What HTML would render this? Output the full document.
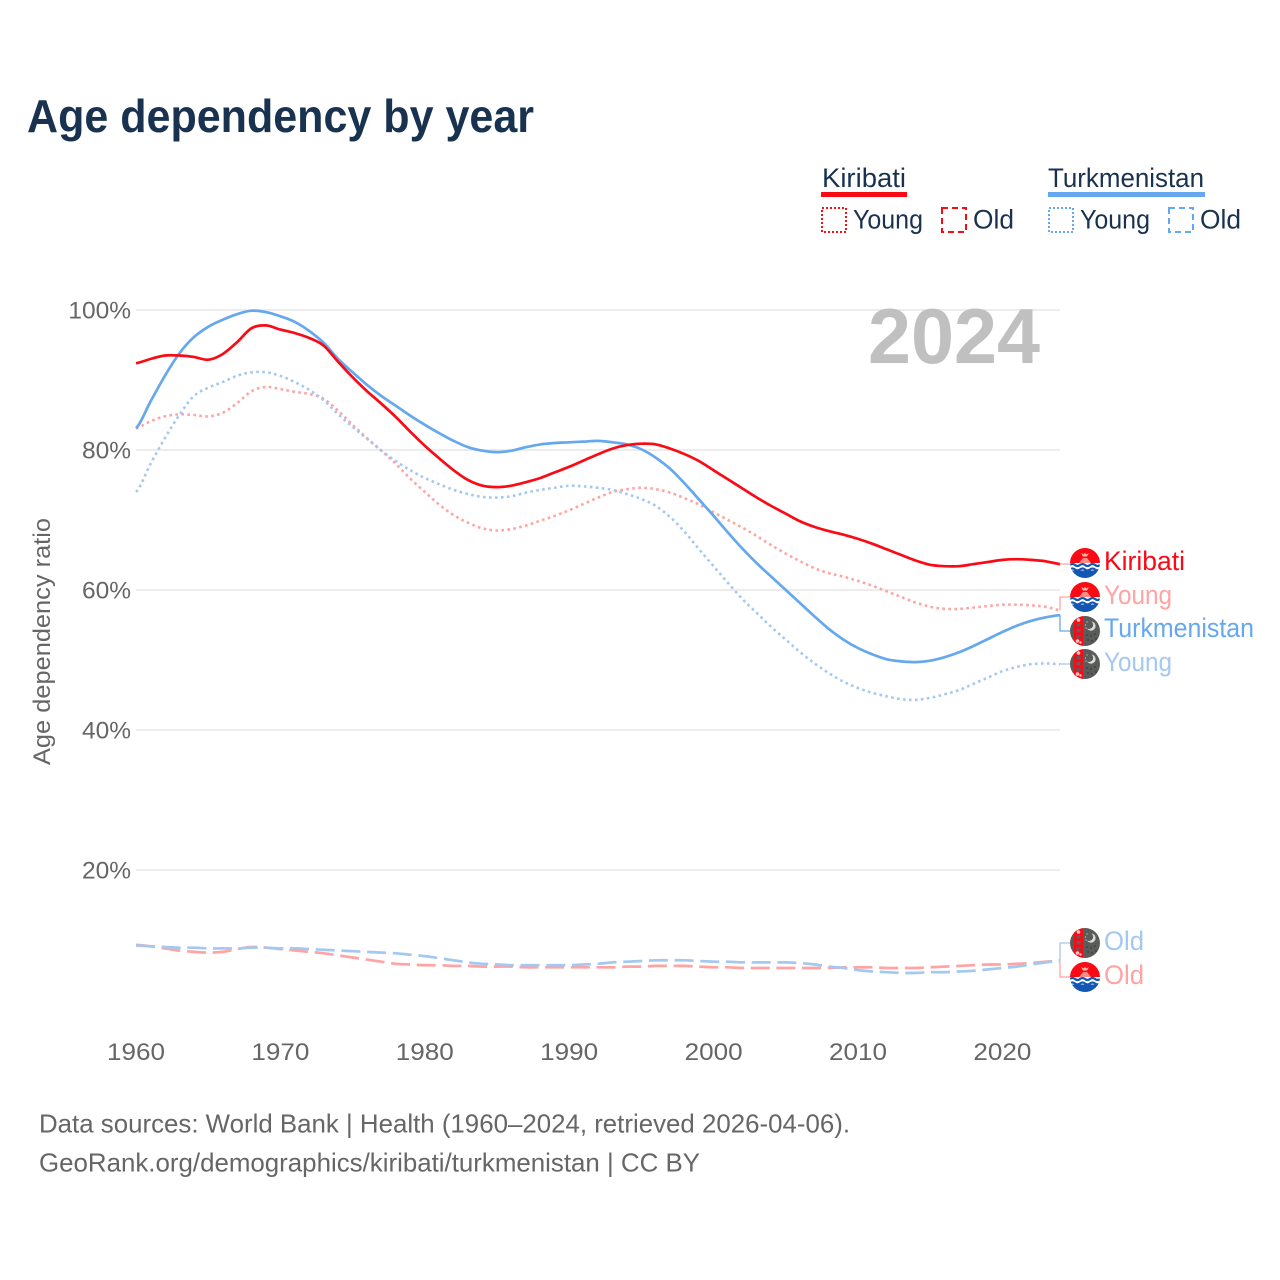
<!DOCTYPE html>
<html lang="en">
<head>
<meta charset="utf-8">
<title>Age dependency by year</title>
<style>
html,body{margin:0;padding:0;background:#fff;}
svg{display:block;}
text{font-family:"Liberation Sans",sans-serif;}
</style>
</head>
<body>
<svg id="chart" xmlns="http://www.w3.org/2000/svg" width="1280" height="1280" viewBox="0 0 1280 1280">
  <defs>
    <clipPath id="flag-clip"><circle cx="0" cy="0" r="15"/></clipPath>
    <g id="flag-kiribati" clip-path="url(#flag-clip)">
      <rect x="-15" y="-15" width="30" height="30" fill="#fff"/>
      <rect x="-15" y="-15" width="30" height="15" fill="#f90a14"/>
      <path d="M-6 0 L-2 -5 L2 -5 L6 0 Z" fill="#ff8c84"/>
      <path d="M-4 -10 L-1 -8.5 L0 -10.5 L1 -8.5 L4 -10 L2 -6.5 L-2 -6.5 Z" fill="#ffb8ac"/>
      <rect x="-15" y="7.5" width="30" height="8" fill="#1356b4"/>
      <path d="M-15 2 q2.5 -2 5 0 t5 0 t5 0 t5 0 t5 0 t5 0" fill="none" stroke="#1356b4" stroke-width="2.3"/>
      <path d="M-15 6.5 q2.5 -2 5 0 t5 0 t5 0 t5 0 t5 0 t5 0" fill="none" stroke="#1356b4" stroke-width="2.3"/>
    </g>
    <g id="flag-turkmenistan" clip-path="url(#flag-clip)">
      <rect x="-15" y="-15" width="30" height="30" fill="#5a5c5a"/>
      <rect x="-11" y="-15" width="9" height="30" fill="#f90a14"/>
      <rect x="-8.5" y="-8" width="4" height="3.5" fill="#5a5c5a"/>
      <rect x="-8.5" y="-2" width="4" height="3.5" fill="#6a5c5a"/>
      <rect x="-8.5" y="4" width="4" height="3.5" fill="#5a5c5a"/>
      <circle cx="-6.5" cy="-11" r="1.8" fill="#ffc4c4"/>
      <circle cx="-7.5" cy="10" r="1.8" fill="#ffc4c4"/>
      <circle cx="-4.5" cy="11.5" r="1.2" fill="#ffc4c4"/>
      <circle cx="6" cy="-5" r="4.6" fill="#dcdcdc"/>
      <circle cx="4" cy="-6.2" r="4.2" fill="#5a5c5a"/>
      <g fill="#d0d0d0">
        <circle cx="2" cy="-9" r="0.6"/><circle cx="0.5" cy="-6" r="0.6"/><circle cx="1" cy="-3" r="0.6"/>
      </g>
      <g fill="#2b2d2f">
        <circle cx="2" cy="4" r="0.7"/><circle cx="6" cy="5" r="0.7"/><circle cx="10" cy="3" r="0.7"/>
        <circle cx="3" cy="9" r="0.7"/><circle cx="7" cy="10" r="0.7"/><circle cx="11" cy="8" r="0.7"/>
      </g>
    </g>
  </defs>

  <rect x="0" y="0" width="1280" height="1280" fill="#ffffff"/>

  <text x="27" y="132" font-size="46" font-weight="700" fill="#19324f" textLength="507" lengthAdjust="spacingAndGlyphs">Age dependency by year</text>

  <g id="grid"></g>
  <g id="yticks"></g>
  <g id="xticks"></g>

  <text transform="translate(50,765) rotate(-90)" font-size="24.5" fill="#666666" textLength="247" lengthAdjust="spacingAndGlyphs">Age dependency ratio</text>

  <text x="868" y="363" font-size="78" font-weight="700" fill="#c0c0c0" textLength="172" lengthAdjust="spacingAndGlyphs">2024</text>

  <g id="series"></g>
  <g id="connectors"></g>

  <g>
    <text x="822" y="187" font-size="27" fill="#19324f" textLength="84" lengthAdjust="spacingAndGlyphs">Kiribati</text>
    <rect x="821" y="192" width="86" height="5" fill="#f90a14"/>
    <rect x="822" y="208" width="24" height="24" fill="none" stroke="#f90a14" stroke-width="2" stroke-dasharray="2 2"/>
    <text x="853" y="228.5" font-size="27" fill="#19324f" textLength="70" lengthAdjust="spacingAndGlyphs">Young</text>
    <rect x="942" y="208" width="24" height="24" fill="none" stroke="#f90a14" stroke-width="2" stroke-dasharray="6 4"/>
    <text x="973" y="228.5" font-size="27" fill="#19324f" textLength="41" lengthAdjust="spacingAndGlyphs">Old</text>

    <text x="1048" y="187" font-size="27" fill="#19324f" textLength="156" lengthAdjust="spacingAndGlyphs">Turkmenistan</text>
    <rect x="1048" y="192" width="157" height="5" fill="#66a8ee"/>
    <rect x="1049" y="208" width="24" height="24" fill="none" stroke="#66a8ee" stroke-width="2" stroke-dasharray="2 2"/>
    <text x="1080" y="228.5" font-size="27" fill="#19324f" textLength="70" lengthAdjust="spacingAndGlyphs">Young</text>
    <rect x="1169" y="208" width="24" height="24" fill="none" stroke="#66a8ee" stroke-width="2" stroke-dasharray="6 4"/>
    <text x="1200" y="228.5" font-size="27" fill="#19324f" textLength="41" lengthAdjust="spacingAndGlyphs">Old</text>
  </g>

  <g>
    <use href="#flag-kiribati" x="1085" y="563"/>
    <text x="1104" y="570" font-size="27" fill="#f90a14" textLength="81" lengthAdjust="spacingAndGlyphs">Kiribati</text>
    <use href="#flag-kiribati" x="1085" y="597"/>
    <text x="1104" y="604" font-size="27" fill="#ffa3a3" textLength="68" lengthAdjust="spacingAndGlyphs">Young</text>
    <use href="#flag-turkmenistan" x="1085" y="631"/>
    <text x="1104" y="637" font-size="27" fill="#66a8ee" textLength="150" lengthAdjust="spacingAndGlyphs">Turkmenistan</text>
    <use href="#flag-turkmenistan" x="1085" y="664"/>
    <text x="1104" y="671" font-size="27" fill="#a3c8f1" textLength="68" lengthAdjust="spacingAndGlyphs">Young</text>
    <use href="#flag-turkmenistan" x="1085" y="943"/>
    <text x="1104" y="950" font-size="27" fill="#a3c8f1" textLength="40" lengthAdjust="spacingAndGlyphs">Old</text>
    <use href="#flag-kiribati" x="1085" y="977"/>
    <text x="1104" y="984" font-size="27" fill="#ffa3a3" textLength="40" lengthAdjust="spacingAndGlyphs">Old</text>
  </g>

  <text x="39" y="1132.5" font-size="26" fill="#666666" textLength="811" lengthAdjust="spacingAndGlyphs">Data sources: World Bank | Health (1960–2024, retrieved 2026-04-06).</text>
  <text x="39" y="1171.5" font-size="26" fill="#666666" textLength="661" lengthAdjust="spacingAndGlyphs">GeoRank.org/demographics/kiribati/turkmenistan | CC BY</text>
</svg>

<script>
const startYear = 1960;
const yTickValues = [20, 40, 60, 80, 100];
const yTickLabels = ["20%", "40%", "60%", "80%", "100%"];
const xTickValues = [1960, 1970, 1980, 1990, 2000, 2010, 2020];
const xTickLabels = ["1960", "1970", "1980", "1990", "2000", "2010", "2020"];

const kiribatiTotal = [92.4,93.0,93.5,93.5,93.3,92.9,93.7,95.4,97.4,97.8,97.2,96.7,96.0,94.9,92.6,90.4,88.4,86.6,84.7,82.6,80.6,78.8,77.1,75.7,74.9,74.7,74.9,75.4,76.0,76.8,77.6,78.5,79.4,80.2,80.7,80.9,80.8,80.2,79.4,78.4,77.1,75.8,74.5,73.2,72.0,70.9,69.8,69.0,68.4,67.9,67.3,66.6,65.8,65.0,64.2,63.6,63.4,63.4,63.7,64.0,64.3,64.4,64.3,64.1,63.7];
const kiribatiYoung = [83.1,84.1,84.8,85.1,85.0,84.8,85.3,86.7,88.4,89.0,88.7,88.3,88.0,87.3,85.6,83.6,81.7,79.9,78.0,75.9,74.0,72.2,70.7,69.6,68.8,68.5,68.7,69.2,69.9,70.6,71.4,72.3,73.2,74.0,74.4,74.6,74.4,73.9,73.1,72.2,71.1,70.0,68.9,67.7,66.4,65.2,64.1,63.1,62.4,61.9,61.3,60.6,59.8,59.0,58.2,57.6,57.3,57.3,57.5,57.7,57.9,57.9,57.8,57.6,57.1];
const kiribatiOld = [9.3,9.1,8.8,8.5,8.3,8.2,8.3,8.7,9.0,8.9,8.7,8.5,8.3,8.1,7.8,7.5,7.2,6.9,6.6,6.5,6.4,6.4,6.3,6.3,6.2,6.2,6.2,6.1,6.1,6.1,6.1,6.1,6.1,6.1,6.2,6.2,6.3,6.3,6.3,6.2,6.1,6.1,6.0,6.0,6.0,6.0,6.0,6.0,6.0,6.1,6.1,6.1,6.0,6.0,6.0,6.1,6.2,6.3,6.4,6.5,6.5,6.6,6.7,6.9,7.0];
const turkmenistanTotal = [83.1,86.9,90.6,93.8,96.1,97.6,98.6,99.4,99.9,99.7,99.1,98.3,97.0,95.3,93.0,91.1,89.3,87.7,86.3,84.9,83.6,82.4,81.3,80.4,79.9,79.7,79.9,80.4,80.8,81.0,81.1,81.2,81.3,81.1,80.8,80.1,78.9,77.3,75.2,72.9,70.6,68.2,65.9,63.8,61.9,60.0,58.1,56.2,54.4,52.9,51.7,50.8,50.1,49.8,49.7,49.9,50.4,51.1,52.0,53.0,54.0,54.9,55.6,56.1,56.4];
const turkmenistanYoung = [74.0,78.0,81.7,85.0,87.7,88.9,89.7,90.6,91.1,91.1,90.6,89.7,88.6,87.1,85.1,83.3,81.6,79.9,78.4,77.1,76.0,75.1,74.3,73.7,73.3,73.2,73.4,73.9,74.3,74.6,74.9,74.8,74.6,74.3,73.7,73.0,72.0,70.4,68.3,65.8,63.4,61.0,58.7,56.7,54.7,52.9,51.1,49.5,48.1,46.9,46.0,45.3,44.8,44.4,44.3,44.6,45.1,45.7,46.6,47.5,48.4,49.0,49.4,49.5,49.4];
const turkmenistanOld = [9.2,9.1,9.0,8.9,8.9,8.8,8.8,8.8,8.9,8.9,8.8,8.8,8.7,8.6,8.5,8.4,8.3,8.2,8.1,7.9,7.7,7.4,7.1,6.8,6.6,6.5,6.4,6.4,6.4,6.4,6.4,6.5,6.6,6.8,6.9,7.0,7.1,7.1,7.1,7.0,6.9,6.9,6.8,6.8,6.8,6.8,6.7,6.5,6.2,6.0,5.7,5.5,5.4,5.3,5.3,5.4,5.4,5.5,5.6,5.8,6.0,6.2,6.5,6.8,7.1];

const SVG_NS = "http://www.w3.org/2000/svg";
function xScale(year) { return 136 + (year - 1960) * 14.44; }
function yScale(value) { return 1010 - value * 7; }
function linePath(values) {
  const n = values.length;
  function px(i) { return xScale(startYear + i); }
  function py(i) { return yScale(values[Math.max(0, Math.min(n - 1, i))]); }
  let d = "M" + px(0).toFixed(2) + " " + py(0).toFixed(2);
  for (let i = 0; i < n - 1; i++) {
    const c1x = px(i) + (px(i + 1) - px(i)) / 3;
    const c2x = px(i + 1) - (px(i + 1) - px(i)) / 3;
    const c1y = py(i) + (py(i + 1) - py(i - 1)) / 6;
    const c2y = py(i + 1) - (py(i + 2) - py(i)) / 6;
    d += "C" + c1x.toFixed(2) + " " + c1y.toFixed(2) + " " + c2x.toFixed(2) + " " + c2y.toFixed(2) + " " + px(i + 1).toFixed(2) + " " + py(i + 1).toFixed(2);
  }
  return d;
}

const gridGroup = document.getElementById("grid");
const yGroup = document.getElementById("yticks");
yTickValues.forEach(function (v, i) {
  const ln = document.createElementNS(SVG_NS, "line");
  
  
  ln.setAttribute("x1", 136);
  ln.setAttribute("x2", 1060);
  ln.setAttribute("y1", yScale(v));
  ln.setAttribute("y2", yScale(v));
  ln.setAttribute("stroke", "#e6e6e6");
  ln.setAttribute("stroke-width", "1.5");
  gridGroup.appendChild(ln);

  const t = document.createElementNS(SVG_NS, "text");
  
  
  t.setAttribute("x", 131);
  t.setAttribute("y", yScale(v) + 8.5);
  t.setAttribute("text-anchor", "end");
  t.setAttribute("font-size", "24.5");
  t.setAttribute("fill", "#666666");
  t.textContent = yTickLabels[i];
  yGroup.appendChild(t);
});

const xGroup = document.getElementById("xticks");
xTickValues.forEach(function (v, i) {
  const t = document.createElementNS(SVG_NS, "text");
  
  
  t.setAttribute("x", xScale(v));
  t.setAttribute("y", 1060);
  t.setAttribute("text-anchor", "middle");
  t.setAttribute("font-size", "24.5");
  t.setAttribute("fill", "#666666");
  t.setAttribute("textLength", "58");
  t.setAttribute("lengthAdjust", "spacingAndGlyphs");
  t.textContent = xTickLabels[i];
  xGroup.appendChild(t);
});

const seriesGroup = document.getElementById("series");
function addLine(name, values, color, dash, width) {
  const p = document.createElementNS(SVG_NS, "path");
  
  
  p.setAttribute("d", linePath(values));
  p.setAttribute("fill", "none");
  p.setAttribute("stroke", color);
  p.setAttribute("stroke-width", width);
  p.setAttribute("stroke-linejoin", "round");
  if (dash) p.setAttribute("stroke-dasharray", dash);
  seriesGroup.appendChild(p);
}
addLine("line-kiribati-old", kiribatiOld, "#ffa3a3", "19 6.7", 2.7);
addLine("line-turkmenistan-old", turkmenistanOld, "#a3c8f1", "19 6.7", 2.7);
addLine("line-kiribati-young", kiribatiYoung, "#ffa3a3", "2.6 3.4", 2.6);
addLine("line-turkmenistan-young", turkmenistanYoung, "#a3c8f1", "2.6 3.4", 2.6);
addLine("line-turkmenistan-total", turkmenistanTotal, "#66a8ee", "", 2.7);
addLine("line-kiribati-total", kiribatiTotal, "#f90a14", "", 2.7);

const connectorGroup = document.getElementById("connectors");
function addConnector(name, value, targetY, color) {
  const p = document.createElementNS(SVG_NS, "path");
  
  
  p.setAttribute("d", "M1060 " + yScale(value).toFixed(1) + " V" + targetY + " H1070");
  p.setAttribute("fill", "none");
  p.setAttribute("stroke", color);
  p.setAttribute("stroke-width", "1.3");
  connectorGroup.appendChild(p);
}
addConnector("connector-kiribati", kiribatiTotal[64], 564, "#ffa3a3");
addConnector("connector-kiribati-young", kiribatiYoung[64], 597, "#ffa3a3");
addConnector("connector-turkmenistan", turkmenistanTotal[64], 631, "#66a8ee");
addConnector("connector-turkmenistan-young", turkmenistanYoung[64], 664, "#a3c8f1");
addConnector("connector-turkmenistan-old", turkmenistanOld[64], 943, "#a3c8f1");
addConnector("connector-kiribati-old", kiribatiOld[64], 977, "#ffa3a3");
</script>
</body>
</html>
